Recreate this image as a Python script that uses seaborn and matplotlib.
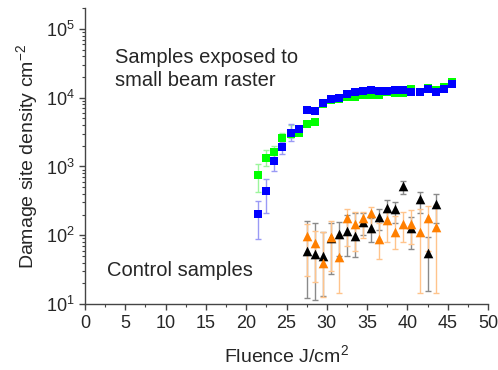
import numpy as np
import pandas as pd
import matplotlib
matplotlib.use("Agg")
import matplotlib.pyplot as plt
import seaborn as sns
from matplotlib.ticker import MultipleLocator, LogLocator, NullFormatter

# ======================================
# DATA
fluence_beam = [21.5, 22.5, 23.5, 24.5, 25.5, 26.5, 27.5, 28.5, 29.5, 30.5, 31.5, 32.5,
                33.5, 34.5, 35.5, 36.5, 37.5, 38.5, 39.5, 40.5, 41.5, 42.5, 43.5, 44.5, 45.5]
green_vals = [750, 1350, 1620, 2570, 3000, 3100, 4200, 4470, 8200, 9200, 9500, 10100,
              10100, 11100, 11100, 10900, 12000, 11600, 11600, 13400, 12200, 14000, 13000, 14500, 17000]
green_lo = [425, 1000, 1380, 2190, 2630, 2900, 4000, 4300, 7900, 8900, 9200, 9800,
            9800, 10800, 10800, 10600, 11700, 11300, 11300, 13000, 11900, 13600, 12600, 14100, 16500]
green_hi = [1070, 1740, 2000, 3090, 3980, 3300, 4400, 4650, 8500, 9500, 9800, 10400,
            10400, 11400, 11400, 11200, 12300, 11900, 11900, 13800, 12500, 14400, 13400, 14900, 17500]
blue_vals = [205, 436, 1200, 1950, 3100, 3500, 6600, 6300, 8500, 9500, 9800, 11300,
             12000, 12500, 12900, 12300, 12300, 12900, 12800, 12000, 12200, 13500, 12200, 13500, 15700]
blue_lo = [89, 214, 860, 1520, 2360, 3300, 6300, 6000, 8200, 9200, 9500, 11000,
           11700, 12200, 12600, 12000, 12000, 12600, 12500, 11700, 11900, 13100, 11900, 13100, 15200]
blue_hi = [320, 660, 1740, 2300, 4200, 3800, 6900, 6600, 8800, 9800, 10100, 11600,
           12300, 12800, 13200, 12600, 12600, 13200, 13100, 12300, 12500, 13900, 12500, 13900, 16200]

fluence_ctrl = [27.5, 28.5, 29.5, 30.5, 31.5, 32.5, 33.5, 34.5, 35.5,
                36.5, 37.5, 38.5, 39.5, 40.5, 41.5, 42.5, 43.5]
black_vals = [59, 53, 50, 90, 104, 115, 97, 154, 129, 186, 252, 240, 520, 129, 333, 56, 282]
black_lo = [12.4, 11.4, 13.2, 27, 50, 50, 48, 100, 81, 120, 150, 150, 398, 63, 210, 15.6, 150]
black_hi = [160, 150, 110, 151, 157, 200, 210, 210, 176, 238, 326, 308, 612, 187, 420, 95, 400]
orange_vals = [97, 78, 39, 95, 48, 180, 144, 180, 209, 88, 166, 113, 146, 146, 111, 176, 133]
orange_lo = [26, 21, 12.7, 30, 14.3, 70, 60, 90, 110, 45, 80, 63, 81, 75, 14.3, 60, 14.3]
orange_hi = [148, 117, 110, 160, 100, 240, 220, 220, 260, 150, 220, 190, 215, 230, 240, 270, 280]

series_colors = {"green": "#00ff00", "blue": "#0000ff", "black": "#000000", "orange": "#ff7f00"}
bar_colors = {"green": "#9cf59c", "blue": "#9a9af5", "black": "#8a8a8a", "orange": "#ffc48c"}

# ======================================
# TABLE FOR SEABORN
frames = []
for name, x, v, lo, hi in [("black", fluence_ctrl, black_vals, black_lo, black_hi),
                           ("orange", fluence_ctrl, orange_vals, orange_lo, orange_hi),
                           ("green", fluence_beam, green_vals, green_lo, green_hi),
                           ("blue", fluence_beam, blue_vals, blue_lo, blue_hi)]:
    frames.append(pd.DataFrame({"fluence": x, "density": v, "lo": lo, "hi": hi, "series": name}))
df = pd.concat(frames, ignore_index=True)

# ======================================
# PLOT
sns.set_style("ticks")
plt.rcParams["font.family"] = ["Liberation Sans", "DejaVu Sans"]
plt.rcParams["mathtext.fontset"] = "custom"
plt.rcParams["mathtext.rm"] = "Liberation Sans"
plt.rcParams["mathtext.it"] = "Liberation Sans"

fig = plt.figure(figsize=(4.98, 3.70), dpi=100)
ax = fig.add_axes([0.1707, 0.178, 0.8093, 0.8])

for name in ["black", "orange", "green", "blue"]:
    d = df[df["series"] == name]
    ax.errorbar(d["fluence"], d["density"],
                yerr=[d["density"] - d["lo"], d["hi"] - d["density"]],
                fmt="none", ecolor=bar_colors[name], elinewidth=1.0, capsize=2.5,
                capthick=1.0, zorder=2)
    marker = "^" if name in ("black", "orange") else "s"
    size = 48 if marker == "^" else 36
    sns.scatterplot(data=d, x="fluence", y="density", ax=ax, color=series_colors[name],
                    marker=marker, s=size, linewidth=0, legend=False, zorder=3)

ax.set_yscale("log")
ax.set_xlim(0, 50)
ax.set_ylim(10, 2e5)
ax.xaxis.set_major_locator(MultipleLocator(5))
ax.xaxis.set_minor_locator(MultipleLocator(2.5))
ax.yaxis.set_minor_locator(LogLocator(base=10, subs=np.arange(2, 10), numticks=20))
ax.yaxis.set_minor_formatter(NullFormatter())
ax.set_yticks([1e1, 1e2, 1e3, 1e4, 1e5])
ax.set_yticklabels(["10$^1$", "10$^2$", "10$^3$", "10$^4$", "10$^5$"])

ax.tick_params(axis="both", which="major", labelsize=13, length=4, width=1, color="#444444")
ax.tick_params(axis="both", which="minor", length=2.5, width=0.8, color="#444444")
for s in ["left", "bottom"]:
    ax.spines[s].set_color("#444444")
    ax.spines[s].set_linewidth(1.0)
sns.despine(ax=ax)

ax.set_xlabel("Fluence J/cm$^2$", fontsize=14, labelpad=9)
ax.set_ylabel("Damage site density cm$^{-2}$", fontsize=14, labelpad=4)

ax.text(3.7, 2.6e4, "Samples exposed to\nsmall beam raster", fontsize=14.5,
        va="center", ha="left", linespacing=1.25)
ax.text(2.7, 31, "Control samples", fontsize=14.5, va="center", ha="left")

fig.savefig("out.png", dpi=100)
